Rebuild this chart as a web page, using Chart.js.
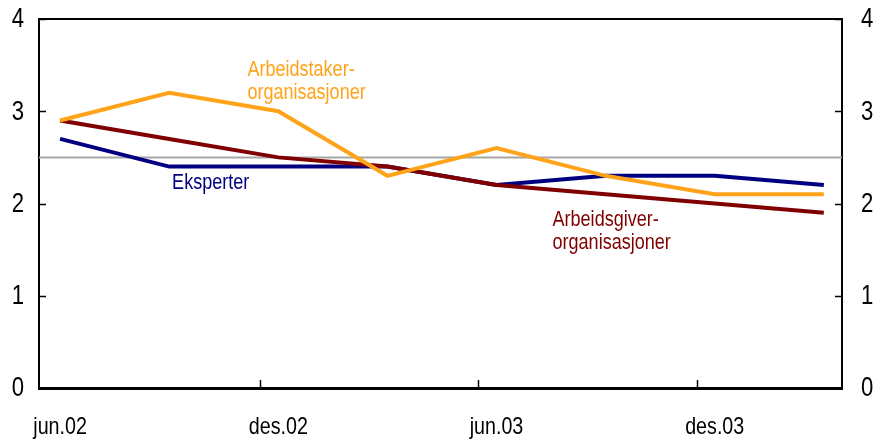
<!DOCTYPE html>
<html>
<head>
<meta charset="utf-8">
<script src="https://cdn.jsdelivr.net/npm/chart.js@4.4.1/dist/chart.umd.min.js"></script>
<style>
    html, body { margin: 0; padding: 0; background: #fff; }
    #wrap { width: 880px; height: 443px; position: relative; }
</style>
</head>
<body>
<div id="wrap"><canvas id="chart"></canvas></div>
<script>
// quarterly observations, x = months since jun.02
const periods = ['jun.02', 'sep.02', 'des.02', 'mar.03', 'jun.03', 'sep.03', 'des.03', 'mar.04'];
const months = [0, 3, 6, 9, 12, 15, 18, 21];

const arbeidstaker = [2.9, 3.2, 3.0, 2.3, 2.6, 2.3, 2.1, 2.1];
const arbeidsgiver = [2.9, 2.7, 2.5, 2.4, 2.2, 2.1, 2.0, 1.9];
const eksperter = [2.7, 2.4, 2.4, 2.4, 2.2, 2.3, 2.3, 2.2];

const tickLabels = ['jun.02', 'des.02', 'jun.03', 'des.03'];
const tickLabelMonths = [0, 6, 12, 18];
const tickMarkMonths = [5.5, 11.5, 17.5];
const yTicks = [0, 1, 2, 3, 4];
const refLevel = 2.5;

const ORANGE = '#FFA31A';
const DARKRED = '#800000';
const NAVY = '#000080';
const FONT = '"Liberation Sans", Arial, sans-serif';
const SQUEEZE = 0.82; // no narrow font installed, so squeeze Liberation Sans

const notes = [
    { lines: ['Arbeidstaker-', 'organisasjoner'], color: ORANGE, x: 5.15, y: 3.45 },
    { lines: ['Eksperter'], color: NAVY, x: 3.08, y: 2.22 },
    { lines: ['Arbeidsgiver-', 'organisasjoner'], color: DARKRED, x: 13.54, y: 1.82 }
];

function toPoints(values) {
    return values.map((v, i) => ({ x: months[i], y: v }));
}

function narrowText(ctx, text, x, y, size, color, align, baseline) {
    ctx.save();
    ctx.font = size + 'px ' + FONT;
    ctx.fillStyle = color;
    ctx.textAlign = align;
    ctx.textBaseline = baseline;
    ctx.translate(x, y);
    ctx.scale(SQUEEZE, 1);
    ctx.fillText(text, 0, 0);
    ctx.restore();
}

const decorations = {
    id: 'decorations',
    beforeDatasetsDraw(chart) {
        const { ctx, chartArea: a, scales: { y } } = chart;
        const yRef = y.getPixelForValue(refLevel);
        ctx.save();
        ctx.strokeStyle = '#a6a6a6';
        ctx.lineWidth = 2;
        ctx.beginPath();
        ctx.moveTo(a.left, yRef);
        ctx.lineTo(a.right, yRef);
        ctx.stroke();
        ctx.restore();
    },
    afterDraw(chart) {
        const { ctx, chartArea: a, scales: { x, y } } = chart;
        ctx.save();
        ctx.strokeStyle = '#000';
        // top frame
        ctx.lineWidth = 2;
        ctx.beginPath();
        ctx.moveTo(a.left - 1, a.top);
        ctx.lineTo(a.right + 1, a.top);
        ctx.stroke();
        // inward tick marks
        ctx.lineWidth = 1.5;
        ctx.beginPath();
        yTicks.forEach(v => {
            const py = Math.round(y.getPixelForValue(v)) + 0.5;
            ctx.moveTo(a.left, py);
            ctx.lineTo(a.left + 7, py);
            ctx.moveTo(a.right, py);
            ctx.lineTo(a.right - 7, py);
        });
        tickMarkMonths.forEach(m => {
            const px = Math.round(x.getPixelForValue(m)) + 0.5;
            ctx.moveTo(px, a.bottom);
            ctx.lineTo(px, a.bottom - 8);
        });
        ctx.stroke();
        ctx.restore();

        // axis labels
        yTicks.forEach(v => {
            const py = y.getPixelForValue(v) + 1;
            narrowText(ctx, String(v), a.left - 15, py, 27, '#000', 'right', 'middle');
            narrowText(ctx, String(v), a.right + 19, py, 27, '#000', 'left', 'middle');
        });
        tickLabelMonths.forEach((m, i) => {
            narrowText(ctx, tickLabels[i], x.getPixelForValue(m), a.bottom + 46, 24, '#000', 'center', 'alphabetic');
        });

        // series labels
        notes.forEach(n => {
            const px = x.getPixelForValue(n.x);
            const py = y.getPixelForValue(n.y);
            n.lines.forEach((t, i) => narrowText(ctx, t, px, py + i * 23, 22, n.color, 'left', 'middle'));
        });
    }
};

const ctx = document.getElementById('chart');

new Chart(ctx, {
    type: 'line',
    data: {
        datasets: [
            { label: 'Arbeidstakerorganisasjoner', data: toPoints(arbeidstaker), borderColor: ORANGE, borderWidth: 4 },
            { label: 'Arbeidsgiverorganisasjoner', data: toPoints(arbeidsgiver), borderColor: DARKRED, borderWidth: 4 },
            { label: 'Eksperter', data: toPoints(eksperter), borderColor: NAVY, borderWidth: 4 }
        ]
    },
    options: {
        responsive: true,
        maintainAspectRatio: false,
        animation: false,
        elements: { point: { radius: 0 }, line: { tension: 0, fill: false } },
        layout: { padding: { top: 19, left: 0, right: 0, bottom: 0 } },
        plugins: { legend: { display: false }, tooltip: { enabled: false } },
        scales: {
            x: {
                type: 'linear',
                min: -0.58,
                max: 21.5,
                grid: { display: false, drawTicks: false },
                border: { display: true, color: '#000', width: 3 },
                afterBuildTicks: s => { s.ticks = tickLabelMonths.map(v => ({ value: v })); },
                afterFit: s => { s.height = 55; s.paddingLeft = 0; s.paddingRight = 0; },
                ticks: { display: false }
            },
            y: {
                position: 'left',
                min: 0,
                max: 4,
                grid: { display: false, drawTicks: false },
                border: { display: true, color: '#000', width: 2 },
                afterFit: s => { s.width = 39; s.paddingTop = 0; s.paddingBottom = 0; },
                ticks: { display: false, stepSize: 1 }
            },
            y2: {
                position: 'right',
                min: 0,
                max: 4,
                grid: { display: false, drawTicks: false },
                border: { display: true, color: '#000', width: 2 },
                afterFit: s => { s.width = 38; s.paddingTop = 0; s.paddingBottom = 0; },
                ticks: { display: false, stepSize: 1 }
            }
        }
    },
    plugins: [decorations]
});
</script>
</body>
</html>
